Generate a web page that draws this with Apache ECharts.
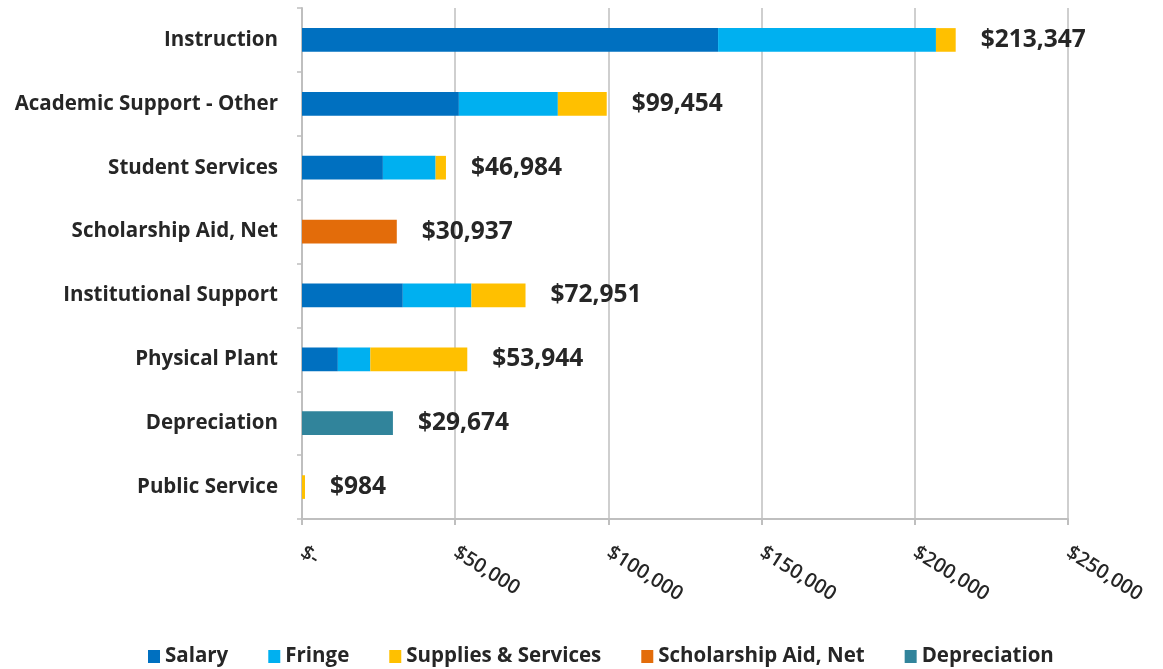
<!DOCTYPE html>
<html>
<head>
<meta charset="utf-8">
<script src="https://cdn.jsdelivr.net/npm/echarts@6/dist/echarts.min.js"></script>
<style>
  html, body { margin: 0; padding: 0; background: #ffffff; }
  #chart { width: 1163px; height: 669px; }
</style>
</head>
<body>
<div id="chart"></div>
<script>
// Expense categories, top to bottom
const categories = [
  'Instruction',
  'Academic Support - Other',
  'Student Services',
  'Scholarship Aid, Net',
  'Institutional Support',
  'Physical Plant',
  'Depreciation',
  'Public Service'
];

// Dollar amounts per component
const salary      = [135800, 51200, 26400,     0, 32900, 11700,     0,   0];
const fringe      = [ 71100, 32300, 17200,     0, 22400, 10600,     0,   0];
const supplies    = [  6447, 15954,  3384,     0, 17651, 31644,     0, 984];
const scholarship = [     0,     0,     0, 30937,     0,     0,     0,   0];
const depreciation= [     0,     0,     0,     0,     0,     0, 29674,   0];

// Axis ticks
const axisTicks = [0, 50000, 100000, 150000, 200000, 250000];

const seriesNames = ['Salary', 'Fringe', 'Supplies & Services', 'Scholarship Aid, Net', 'Depreciation'];
const seriesData  = [salary, fringe, supplies, scholarship, depreciation];
const seriesColors = ['#0070C0', '#00B0F0', '#FFC000', '#E36C0A', '#31849B'];

const fontFamily = '"Open Sans", "Liberation Sans", sans-serif';

function money(v) {
  return v === 0 ? '$-' : '$' + v.toLocaleString('en-US');
}

// Row totals shown at the end of each stacked bar
const totals = categories.map((_, i) =>
  seriesData.reduce((s, arr) => s + arr[i], 0));

const series = seriesNames.map((name, k) => ({
  name,
  type: 'bar',
  stack: 'cost',
  barWidth: '37%',
  itemStyle: { color: seriesColors[k] },
  data: seriesData[k]
}));

// Zero-width end cap carrying the total label
series.push({
  name: 'Total',
  type: 'bar',
  stack: 'cost',
  barWidth: '37%',
  itemStyle: { color: 'transparent' },
  data: categories.map(() => 0),
  label: {
    show: true,
    position: 'right',
    distance: 25,
    formatter: (p) => money(totals[p.dataIndex]),
    fontFamily,
    fontWeight: 'bold',
    fontSize: 24.5,
    color: '#262626'
  },
  silent: true
});

const chart = echarts.init(document.getElementById('chart'));
chart.setOption({
  backgroundColor: '#ffffff',
  animation: false,
  grid: { left: 302, right: 95, top: 8, bottom: 150, containLabel: false },
  xAxis: {
    type: 'value',
    min: axisTicks[0],
    max: axisTicks[axisTicks.length - 1],
    interval: axisTicks[1] - axisTicks[0],
    axisLine: { show: true, lineStyle: { color: '#BFBFBF', width: 2 } },
    axisTick: { show: true, length: 6, lineStyle: { color: '#BFBFBF', width: 2 } },
    splitLine: { show: true, lineStyle: { color: '#BFBFBF', width: 1.5 } },
    axisLabel: {
      rotate: -32,
      margin: 32,
      formatter: money,
      fontFamily,
      fontWeight: 600,
      fontSize: 20,
      color: '#262626'
    }
  },
  yAxis: {
    type: 'category',
    inverse: true,
    data: categories,
    axisLine: { show: true, lineStyle: { color: '#BFBFBF', width: 2 } },
    axisTick: { show: true, length: 5, lineStyle: { color: '#BFBFBF', width: 1.5 } },
    axisLabel: {
      margin: 24,
      fontFamily,
      fontWeight: 'bold',
      fontSize: 20.5,
      color: '#262626'
    }
  },
  legend: {
    data: seriesNames,
    top: 641,
    left: 143,
    icon: 'rect',
    itemWidth: 12,
    itemHeight: 13,
    itemGap: 40,
    textStyle: { fontFamily, fontWeight: 'bold', fontSize: 20.5, color: '#262626' }
  },
  series
});
</script>
</body>
</html>
